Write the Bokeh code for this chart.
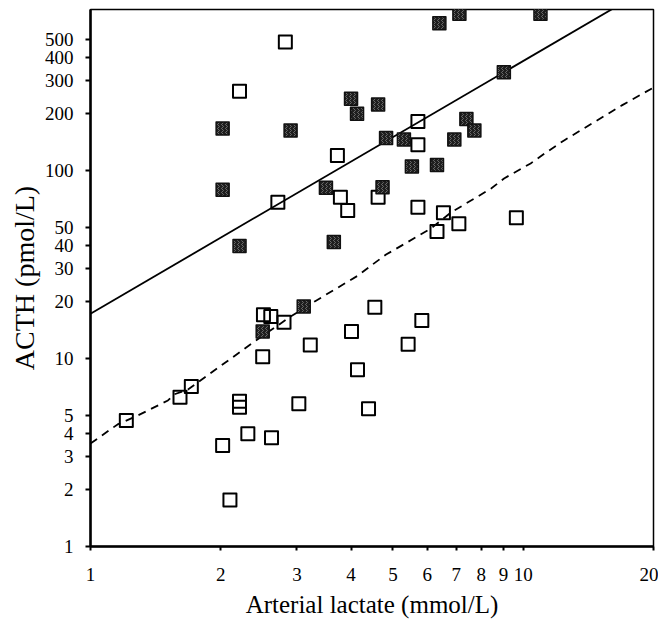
from bokeh.plotting import figure
from bokeh.models import Range1d, FixedTicker, PrintfTickFormatter
from bokeh.embed import file_html
from bokeh.resources import INLINE

# Open squares (lactate mmol/L, ACTH pmol/L)
open_x = [1.21, 1.61, 1.71, 2.02, 2.10, 2.21, 2.21, 2.31, 2.62, 3.03,
          2.51, 2.61, 2.80, 2.50, 3.22, 4.01, 4.54, 5.83, 5.42, 4.14,
          4.39, 5.71, 6.54, 6.32, 7.10, 3.93, 3.78, 4.62, 2.71, 3.72,
          5.71, 5.71, 2.21, 2.82, 9.64]
open_y = [4.68, 6.22, 7.1, 3.45, 1.77, 5.93, 5.51, 3.98, 3.79, 5.74,
          17.1, 16.7, 15.6, 10.2, 11.8, 13.9, 18.7, 15.9, 11.9, 8.7,
          5.40, 63.8, 59.6, 47.4, 52.1, 61.3, 72.1, 72.1, 67.8, 120,
          137, 182, 264, 482, 56]

# Filled squares
filled_x = [2.02, 2.90, 2.02, 3.50, 4.00, 4.13, 4.62, 4.82, 5.30, 5.53,
            6.32, 4.73, 6.93, 7.39, 7.71, 6.40, 7.12, 10.96, 9.02, 3.65,
            2.21, 3.11, 2.50]
filled_y = [167, 163, 78.9, 80.9, 241, 200, 224, 149, 146, 105,
            107, 81.5, 146, 188, 163, 607, 681, 681, 333, 41.6,
            39.6, 18.9, 13.9]

# Solid regression line (read end points)
fit_x = [1.0, 20.0]
fit_y = [17.3, 970.0]

# Dashed lower curve (read vertices)
lower_x = [1.00, 1.155, 1.285, 1.51, 1.56, 1.68, 2.38, 2.71, 2.90, 3.32,
           4.15, 4.45, 4.82, 6.12, 6.81, 8.43, 9.03, 10.4, 11.2, 12.4,
           16.9, 20.0]
lower_y = [3.53, 4.46, 4.97, 5.98, 6.44, 6.84, 12.2, 15.0, 16.7, 20.3,
           27.6, 31.2, 35.7, 49.1, 59.8, 80.2, 90.7, 109, 123, 144,
           222, 276]

x_ticks = [1, 2, 3, 4, 5, 6, 7, 8, 9, 10, 20]
y_ticks = [1, 2, 3, 4, 5, 10, 20, 30, 40, 50, 100, 200, 300, 400, 500]

FONT = "Liberation Serif"

p = figure(x_axis_type="log", y_axis_type="log",
           x_range=Range1d(1, 20), y_range=Range1d(1, 718),
           frame_width=563, frame_height=537,
           min_border_left=90, min_border_top=9, min_border_right=5,
           min_border_bottom=40,
           output_backend="svg", toolbar_location=None)

p.background_fill_color = "white"
p.border_fill_color = "white"
p.outline_line_color = "black"
p.outline_line_width = 1.5
p.xgrid.grid_line_color = None
p.ygrid.grid_line_color = None

for ax in (p.xaxis, p.yaxis):
    ax.axis_line_width = 2.5
    ax.axis_line_color = "black"
    ax.major_tick_in = 0
    ax.minor_tick_line_color = None
    ax.major_tick_line_width = 2
    ax.major_tick_line_color = "black"
    ax.major_label_text_font = FONT
    ax.major_label_text_font_size = "19px"
    ax.major_label_text_color = "black"
    ax.axis_label_text_font = FONT
    ax.axis_label_text_font_style = "normal"
    ax.axis_label_text_color = "black"
    ax.formatter = PrintfTickFormatter(format="%d")

p.xaxis.axis_label_text_font_size = "25px"
p.yaxis.axis_label_text_font_size = "28px"
p.xaxis.ticker = FixedTicker(ticks=x_ticks)
p.yaxis.ticker = FixedTicker(ticks=y_ticks)
p.xaxis.major_tick_out = 4
p.yaxis.major_tick_out = 5
p.xaxis.major_label_standoff = 17
p.yaxis.major_label_standoff = 12
p.xaxis.axis_label_standoff = 7
p.yaxis.axis_label_standoff = 2
p.xaxis.axis_label = "Arterial lactate (mmol/L)"
p.yaxis.axis_label = "ACTH (pmol/L)"

p.line(fit_x, fit_y, line_color="black", line_width=1.8)
p.line(lower_x, lower_y, line_color="black", line_width=1.8, line_dash="8 6")

p.scatter(open_x, open_y, marker="square", size=13, fill_color=None,
          line_color="black", line_width=2, line_join="round")
p.scatter(filled_x, filled_y, marker="square", size=13, fill_color="#1e1e1e",
          line_color="#111111", line_width=1.5, line_join="round",
          hatch_pattern="vertical_wave", hatch_color="#6a6a6a",
          hatch_scale=4, hatch_weight=1)

open("out.html", "w").write(file_html(p, INLINE))
